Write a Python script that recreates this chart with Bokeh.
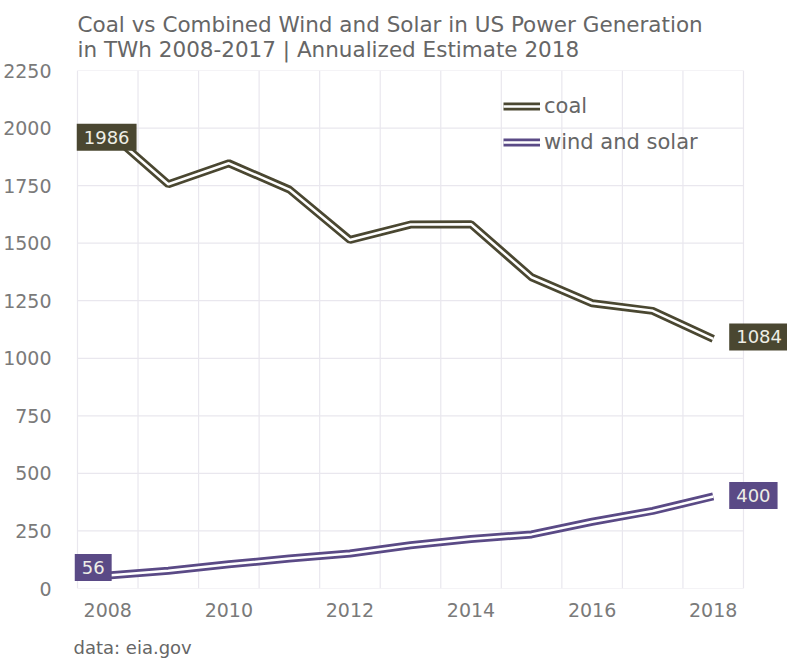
from bokeh.plotting import figure
from bokeh.models import FixedTicker, Label, Title, Legend, LegendItem, Range1d
from bokeh.embed import file_html
from bokeh.resources import INLINE

years = [2008, 2009, 2010, 2011, 2012, 2013, 2014, 2015, 2016, 2017, 2018]
coal = [1986, 1756, 1847, 1733, 1514, 1581, 1582, 1352, 1239, 1206, 1084]
wind_solar = [56, 77, 105, 130, 152, 188, 215, 235, 290, 337, 400]
y_ticks = [0, 250, 500, 750, 1000, 1250, 1500, 1750, 2000, 2250]
x_ticks = [2008, 2010, 2012, 2014, 2016, 2018]
x_grid = [2007.5 + i for i in range(12)]

COAL = "#4a4731"
WIND = "#5a4a86"
FONT = "DejaVu Sans"
GRID = "#e9e7ee"

p = figure(frame_width=718, frame_height=518, output_backend="svg", toolbar_location=None,
           x_range=Range1d(2007.368, 2019.227), y_range=Range1d(0, 2250),
           min_border_left=68, min_border_right=0, min_border_top=69, min_border_bottom=0)
p.outline_line_color = None
p.background_fill_color = "white"
p.xgrid.visible = False
p.ygrid.visible = False

for ax in (p.xaxis[0], p.yaxis[0]):
    ax.axis_line_color = None
    ax.major_tick_line_color = None
    ax.minor_tick_line_color = None
    ax.major_label_text_font = FONT
    ax.major_label_text_font_size = "19px"
    ax.major_label_text_color = "#7a7a7a"
p.yaxis.ticker = FixedTicker(ticks=y_ticks)
p.xaxis.ticker = FixedTicker(ticks=x_ticks)
p.yaxis.major_label_standoff = 12
p.xaxis.major_label_standoff = 8

# grid limited to the 2007.5 - 2018.5 band
p.segment(x0=x_grid, x1=x_grid, y0=[y_ticks[0]] * len(x_grid), y1=[y_ticks[-1]] * len(x_grid),
          line_color=GRID, line_width=1.2)
p.segment(x0=[x_grid[0]] * len(y_ticks), x1=[x_grid[-1]] * len(y_ticks), y0=y_ticks, y1=y_ticks,
          line_color=GRID, line_width=1.2)

c1 = p.line(years, coal, line_color=COAL, line_width=8)
c2 = p.line(years, coal, line_color="white", line_width=2.5)
w1 = p.line(years, wind_solar, line_color=WIND, line_width=8)
w2 = p.line(years, wind_solar, line_color="white", line_width=2.5)

legend = Legend(items=[LegendItem(label="coal", renderers=[c1, c2]),
                       LegendItem(label="wind and solar", renderers=[w1, w2])],
                location=(434, 428), padding=0, margin=0, spacing=0,
                glyph_width=37, glyph_height=36, label_height=36, label_standoff=4,
                label_text_font=FONT, label_text_font_size="21px", label_text_color="#666666",
                background_fill_alpha=0, border_line_color=None)
p.add_layout(legend, "center")

def box(x, y, txt, color, xoff, yoff):
    p.add_layout(Label(x=x, y=y, text=txt, x_offset=xoff, y_offset=yoff,
                       text_align="left", text_baseline="middle",
                       text_font=FONT, text_font_size="18px", text_color="#eeeee6",
                       background_fill_color=color, padding=7))

box(years[0], coal[0], str(coal[0]), COAL, -31, -6)
box(years[-1], coal[-1], str(coal[-1]), COAL, 16, 2)
box(years[0], wind_solar[0], str(wind_solar[0]), WIND, -33, 8)
box(years[-1], wind_solar[-1], str(wind_solar[-1]), WIND, 16, 1)

p.add_layout(Title(text="Coal vs Combined Wind and Solar in US Power Generation\nin TWh 2008-2017 | Annualized Estimate 2018",
                   align="left", text_font=FONT, text_font_size="21.5px", text_font_style="normal",
                   text_color="#666666", standoff=18, text_line_height=1.0, offset=8), "above")
p.add_layout(Title(text="data: eia.gov", align="left", offset=4, standoff=30,
                   text_font=FONT, text_font_size="18px", text_font_style="normal",
                   text_color="#666666"), "below")

open("out.html", "w").write(file_html(p, INLINE))
